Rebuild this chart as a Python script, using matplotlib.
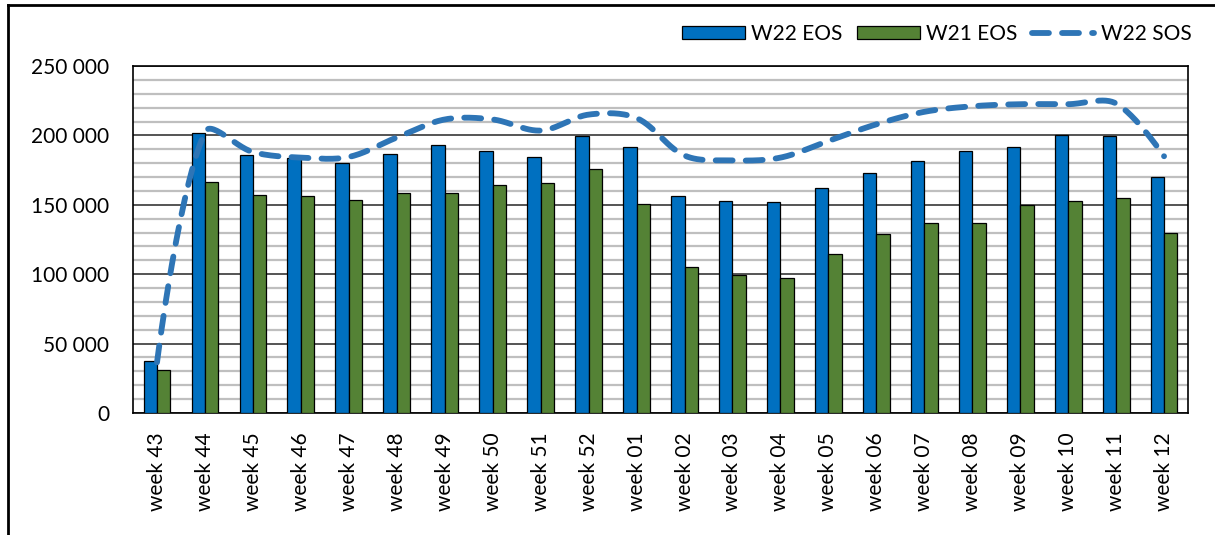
import numpy as np
import matplotlib
matplotlib.use("Agg")
import matplotlib.pyplot as plt
from matplotlib.ticker import MultipleLocator, FuncFormatter
from matplotlib.lines import Line2D

plt.rcParams['font.family'] = ['Lato', 'DejaVu Sans']

# data
weeks = ['week 43', 'week 44', 'week 45', 'week 46', 'week 47', 'week 48', 'week 49',
         'week 50', 'week 51', 'week 52', 'week 01', 'week 02', 'week 03', 'week 04',
         'week 05', 'week 06', 'week 07', 'week 08', 'week 09', 'week 10', 'week 11',
         'week 12']
w22_eos = [37500, 201600, 186000, 183500, 180200, 186800, 193000, 188500, 184500, 199500,
           191600, 156000, 153100, 151700, 162400, 173200, 181300, 188500, 191800, 200000,
           199600, 170300]
w21_eos = [31100, 166300, 157200, 156200, 153300, 158800, 158400, 164300, 165500, 176000,
           150500, 105500, 99500, 97400, 114800, 129200, 136600, 137100, 150000, 153100,
           155000, 129700]
w22_sos = [36500, 202500, 188000, 184000, 184500, 198500, 211500, 211500, 203500, 215000,
           212500, 185500, 182000, 184000, 196000, 208000, 217000, 221000, 222500, 222500,
           223000, 185000]


def smooth_curve(ax, x, y, steps=30):
    # Excel-like smoothed line: Bezier segments, handles scaled by segment lengths
    # (lengths measured on screen so steep jumps don't overshoot)
    x = np.asarray(x, float)
    y = np.asarray(y, float)
    fig = ax.figure
    bb = ax.get_position()
    x0, x1 = ax.get_xlim()
    y0, y1 = ax.get_ylim()
    kx = bb.width * fig.get_figwidth() * fig.dpi / (x1 - x0)
    ky = bb.height * fig.get_figheight() * fig.dpi / (y1 - y0)
    P = np.column_stack([x * kx, y * ky])
    n = len(P)
    before = P.copy()
    after = P.copy()
    for i in range(1, n - 1):
        tan = P[i + 1] - P[i - 1]
        dp = np.hypot(*(P[i] - P[i - 1]))
        dn = np.hypot(*(P[i + 1] - P[i]))
        before[i] = P[i] - tan * dp / (dp + dn) / 3
        after[i] = P[i] + tan * dn / (dp + dn) / 3
    t = np.linspace(0, 1, steps)[:, None]
    pts = [P[:1]]
    for i in range(n - 1):
        b = ((1 - t)**3 * P[i] + 3 * (1 - t)**2 * t * after[i]
             + 3 * (1 - t) * t**2 * before[i + 1] + t**3 * P[i + 1])
        pts.append(b[1:])
    pts = np.vstack(pts)
    return pts[:, 0] / kx, pts[:, 1] / ky


fig = plt.figure(figsize=(12.15, 5.35), dpi=100)
ax = fig.add_axes([0.1095, 0.228, 0.8683, 0.6486])

x = np.arange(len(weeks))
ax.set_xlim(-0.5, len(weeks) - 0.5)
ax.set_ylim(0, 250000)

bw = 0.28
b1 = ax.bar(x - bw / 2, w22_eos, bw, color='#0070C0', edgecolor='black', linewidth=0.9,
            label='W22 EOS', zorder=3)
b2 = ax.bar(x + bw / 2, w21_eos, bw, color='#548235', edgecolor='black', linewidth=0.9,
            label='W21 EOS', zorder=3)

sx, sy = smooth_curve(ax, x, w22_sos)
ln, = ax.plot(sx, sy, color='#2E75B6', linewidth=4.2, linestyle=(0, (2.9, 2.25)),
              dash_capstyle='round', label='W22 SOS', zorder=4)

ax.yaxis.set_major_locator(MultipleLocator(50000))
ax.yaxis.set_minor_locator(MultipleLocator(10000))
ax.yaxis.set_major_formatter(FuncFormatter(lambda v, p: f'{int(v):,}'.replace(',', ' ')))
ax.grid(which='minor', axis='y', color='#BFBFBF', linewidth=1.6, zorder=0)
ax.grid(which='major', axis='y', color='#262626', linewidth=1.1, zorder=1)
ax.set_axisbelow(True)

ax.set_xticks(x)
ax.set_xticklabels(weeks, rotation=90)
ax.tick_params(axis='x', length=0, pad=14, labelsize=15)
ax.tick_params(axis='y', which='both', length=0, pad=17, labelsize=15)
for s in ax.spines.values():
    s.set_linewidth(1.2)
    s.set_color('black')

ax.legend(handles=[b1, b2, ln], loc='upper right', bbox_to_anchor=(0.996, 0.99),
          bbox_transform=fig.transFigure, ncol=3, frameon=False, fontsize=15,
          handlelength=3.0, handleheight=0.6, columnspacing=0.7, handletextpad=0.3)

# outer chart frame (cropped in the reference)
fig.add_artist(Line2D([8 / 1215, 1], [1 - 5 / 535, 1 - 5 / 535], color='black',
                      linewidth=2, transform=fig.transFigure))
fig.add_artist(Line2D([8 / 1215, 8 / 1215], [0, 1 - 5 / 535], color='black',
                      linewidth=2, transform=fig.transFigure))

fig.savefig('out.png', dpi=100)
